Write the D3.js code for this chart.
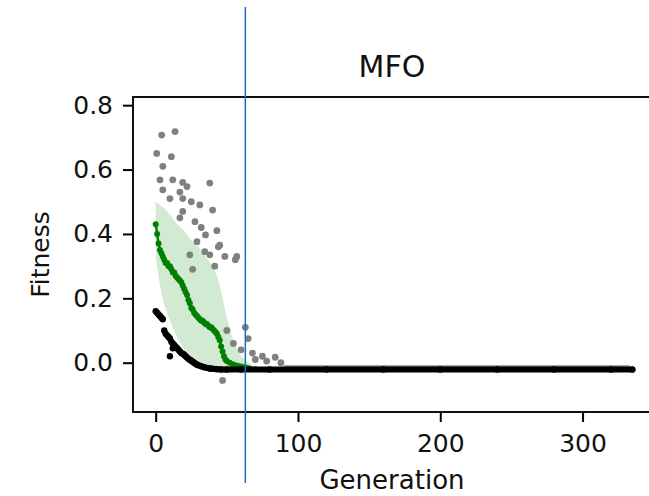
<!DOCTYPE html>
<html>
<head>
<meta charset="utf-8">
<script src="https://cdn.jsdelivr.net/npm/d3@7"></script>
<style>
  body { margin: 0; background: #fff; }
  svg { display: block; font-family: "DejaVu Sans", sans-serif; }
</style>
</head>
<body>
<svg id="chart" width="649" height="496"></svg>
<script>
// chart values
const title = "MFO";
const xTicks = [0, 100, 200, 300];
const yTicks = [0.0, 0.2, 0.4, 0.6, 0.8];

// mean fitness (green line) and its spread band
const meanGen = [0,1,2,3,4,5,6,7,8,9,10,11,12,13,14,15,16,17,18,19,20,21,22,23,24,25,26,27,28,29,30,31,32,33,34,35,36,37,38,39,40,41,42,43,44,45,46,47,48,49,50,52,54,56,58,60,62,64,66,70];
const meanVal = [0.43,0.40,0.37,0.35,0.34,0.33,0.32,0.31,0.31,0.30,0.30,0.29,0.28,0.28,0.27,0.265,0.26,0.255,0.25,0.24,0.23,0.22,0.21,0.195,0.185,0.17,0.165,0.155,0.15,0.145,0.14,0.135,0.13,0.13,0.125,0.12,0.12,0.115,0.11,0.11,0.105,0.10,0.095,0.09,0.08,0.07,0.05,0.035,0.02,0.01,0.005,0.0,-0.005,-0.008,-0.01,-0.012,-0.014,-0.016,-0.018,-0.02];

const bandGen = [0,3,6,10,15,20,25,30,35,40,43,45,48,50,55,60,65,70];
const bandLo = [0.33,0.24,0.18,0.13,0.08,0.04,0.01,-0.01,-0.015,-0.018,-0.019,-0.019,-0.02,-0.02,-0.02,-0.02,-0.02,-0.02];
const bandHi = [0.50,0.49,0.48,0.46,0.43,0.41,0.38,0.36,0.33,0.30,0.27,0.24,0.18,0.14,0.06,0.02,0.0,-0.015];

// best fitness (black)
const bestGen = [0,1,2,3,4,5,6,7,8,9,10,10,11,12,12,13,14,15,16,17,18,19,20,21,22,23,24,25,26,27,28,29,30,32,34,36,38,40,43,46,50,60,80,120,160,200,240,280,320,335];
const bestVal = [0.16,0.155,0.15,0.145,0.14,0.135,0.10,0.09,0.085,0.08,0.075,0.02,0.065,0.06,0.045,0.055,0.05,0.045,0.04,0.035,0.03,0.028,0.025,0.02,0.016,0.012,0.009,0.006,0.003,0.0,-0.003,-0.006,-0.008,-0.011,-0.014,-0.016,-0.018,-0.019,-0.02,-0.021,-0.021,-0.021,-0.021,-0.021,-0.021,-0.021,-0.021,-0.021,-0.021,-0.021];

// worst fitness (grey)
const worstGen = [4.2,13.6,0.7,11,5,3,12,19,22,38,5,10,17,19,25,31,40,19,17,27.6,32,43,35,29,45,34.5,38,48.6,24,41.5,26,44,56,57,63,50,54.6,65,68,75,84,70,78,88,60,47];
const worstVal = [0.707,0.718,0.65,0.64,0.61,0.568,0.568,0.56,0.547,0.558,0.537,0.51,0.53,0.51,0.50,0.49,0.474,0.47,0.45,0.438,0.42,0.41,0.397,0.376,0.365,0.345,0.335,0.33,0.335,0.30,0.29,0.36,0.32,0.33,0.11,0.10,0.06,0.075,0.03,0.02,0.017,0.01,0.005,0.0,0.04,-0.055];
const worstTailGen = [90, 333];
const worstTailVal = [-0.012, -0.012];

// marker line drawn over the figure
const markerGen = 63;

const svg = d3.select("#chart");
const m = {left: 133, right: 652, top: 97, bottom: 412};

const x = d3.scaleLinear().domain([-15.95, 348.8]).range([m.left, m.right]);
// 0.0 sits at y=362.7, 0.8 at y=105
const y = d3.scaleLinear()
    .domain([(362.7 - m.bottom) / 321.9, (362.7 - m.top) / 321.9])
    .range([m.bottom, m.top]);

const plot = svg.append("g");

// spread band
const band = bandGen.map((g, i) => ({g: g, lo: bandLo[i], hi: bandHi[i]}));
plot.append("path")
    .datum(band)
    .attr("fill", "#2ca02c")
    .attr("fill-opacity", 0.22)
    .attr("d", d3.area().x(d => x(d.g)).y0(d => y(d.lo)).y1(d => y(d.hi)));

// worst: tail line + points
plot.append("path")
    .datum(worstTailGen.map((g, i) => [g, worstTailVal[i]]))
    .attr("fill", "none")
    .attr("stroke", "#8a8a8a")
    .attr("stroke-width", 2.5)
    .attr("d", d3.line().x(d => x(d[0])).y(d => y(d[1])));
plot.selectAll(".worst")
    .data(worstGen.map((g, i) => [g, worstVal[i]]))
    .enter().append("circle")
    .attr("class", "worst")
    .attr("cx", d => x(d[0]))
    .attr("cy", d => y(d[1]))
    .attr("r", 3.4)
    .attr("fill", "#808080");

// mean line with markers
const mean = meanGen.map((g, i) => [g, meanVal[i]]);
plot.append("path")
    .datum(mean)
    .attr("fill", "none")
    .attr("stroke", "#008000")
    .attr("stroke-width", 2.5)
    .attr("d", d3.line().x(d => x(d[0])).y(d => y(d[1])));
plot.selectAll(".mean")
    .data(mean)
    .enter().append("circle")
    .attr("class", "mean")
    .attr("cx", d => x(d[0]))
    .attr("cy", d => y(d[1]))
    .attr("r", 3)
    .attr("fill", "#008000");

// best: thick run of dots
const best = bestGen.map((g, i) => [g, bestVal[i]]);
plot.append("path")
    .datum(best.filter(d => d[0] >= 30))
    .attr("fill", "none")
    .attr("stroke", "#000")
    .attr("stroke-width", 6)
    .attr("stroke-linecap", "round")
    .attr("d", d3.line().x(d => x(d[0])).y(d => y(d[1])));
plot.selectAll(".best")
    .data(best)
    .enter().append("circle")
    .attr("class", "best")
    .attr("cx", d => x(d[0]))
    .attr("cy", d => y(d[1]))
    .attr("r", 3.2)
    .attr("fill", "#000");

// axes
const xAxis = svg.append("g")
    .attr("transform", `translate(0,${m.bottom})`)
    .call(d3.axisBottom(x).tickValues(xTicks).tickSize(10).tickPadding(12).tickFormat(d3.format("d")));
const yAxis = svg.append("g")
    .attr("transform", `translate(${m.left},0)`)
    .call(d3.axisLeft(y).tickValues(yTicks).tickSize(10).tickPadding(10).tickFormat(d3.format(".1f")));
[xAxis, yAxis].forEach(a => {
    a.select(".domain").remove();
    a.selectAll(".tick line").attr("stroke", "#000").attr("stroke-width", 2);
    a.selectAll(".tick text").attr("font-size", 25).attr("fill", "#111")
        .attr("font-family", "DejaVu Sans");
});

// spines: left, bottom, top
svg.append("path")
    .attr("d", `M${m.right},${m.top}H${m.left}V${m.bottom}H${m.right}`)
    .attr("fill", "none")
    .attr("stroke", "#111")
    .attr("stroke-width", 2);

// labels
svg.append("text")
    .text("Generation")
    .attr("x", 392).attr("y", 489)
    .attr("text-anchor", "middle")
    .attr("font-size", 26)
    .attr("fill", "#111");
svg.append("text")
    .text("Fitness")
    .attr("transform", `translate(49,${(m.top + m.bottom) / 2}) rotate(-90)`)
    .attr("text-anchor", "middle")
    .attr("font-size", 25)
    .attr("fill", "#111");
svg.append("text")
    .text(title)
    .attr("x", 392).attr("y", 77)
    .attr("text-anchor", "middle")
    .attr("font-size", 30)
    .attr("fill", "#111");

// vertical marker
svg.append("line")
    .attr("x1", x(markerGen)).attr("x2", x(markerGen))
    .attr("y1", 7).attr("y2", 483)
    .attr("stroke", "#1a6cc4")
    .attr("stroke-width", 1.5);
</script>
</body>
</html>
